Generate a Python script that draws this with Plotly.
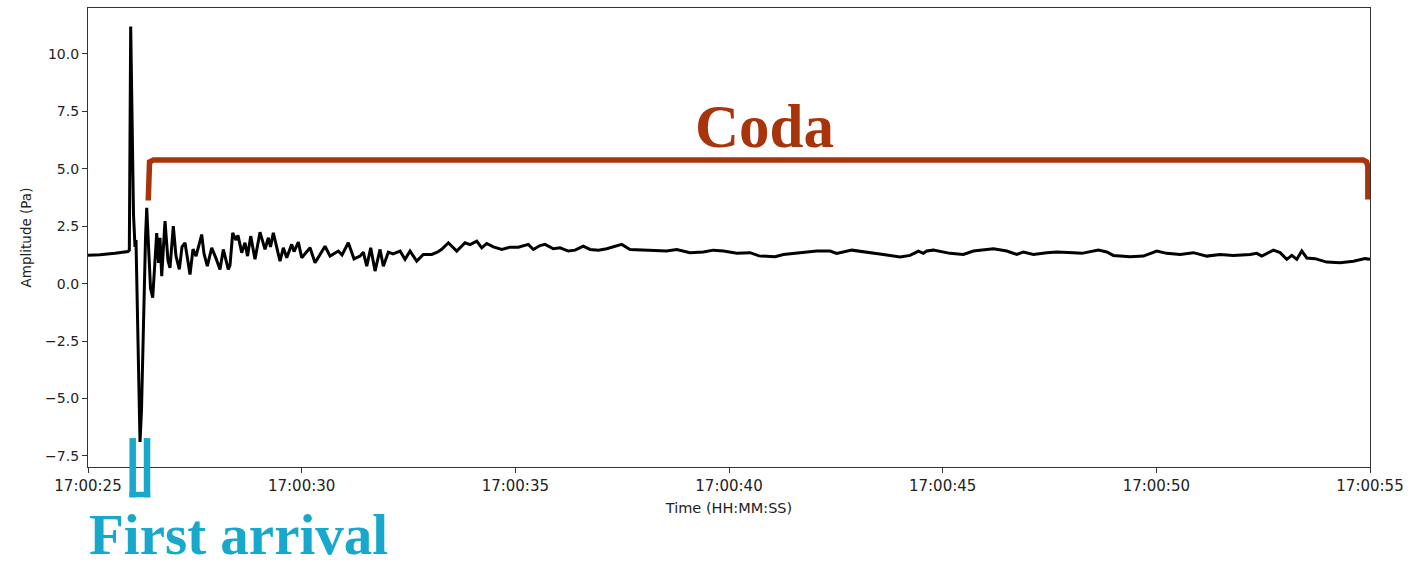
import pandas as pd
import plotly.graph_objects as go

# ---------------- data ----------------
START = "2023-01-01 17:00:25"
END = "2023-01-01 17:00:55"

# seconds after 17:00:25
t_offset_s = [
    0.000, 0.281, 0.632, 0.936, 0.967, 0.999, 1.065, 1.100, 1.123, 1.182,
    1.217, 1.252, 1.299, 1.346, 1.374, 1.416, 1.463, 1.514, 1.608, 1.650,
    1.685, 1.725, 1.802, 1.872, 1.919, 1.996, 2.059, 2.137, 2.200, 2.270,
    2.340, 2.387, 2.457, 2.528, 2.661, 2.715, 2.792, 2.895, 2.996, 3.089,
    3.167, 3.283, 3.323, 3.386, 3.464, 3.510, 3.597, 3.674, 3.733, 3.808,
    3.908, 4.025, 4.142, 4.220, 4.271, 4.337, 4.493, 4.571, 4.650, 4.767,
    4.821, 4.922, 5.001, 5.196, 5.313, 5.430, 5.547, 5.664, 5.858, 5.944,
    6.092, 6.225, 6.366, 6.443, 6.523, 6.616, 6.717, 6.834, 6.911, 7.028,
    7.138, 7.302, 7.419, 7.536, 7.692, 7.847, 8.043, 8.175, 8.278, 8.432,
    8.629, 8.823, 8.940, 9.097, 9.214, 9.331, 9.485, 9.682, 9.876, 10.070,
    10.304, 10.421, 10.578, 10.695, 10.889, 11.046, 11.240, 11.397, 11.591, 11.748,
    11.942, 12.139, 12.490, 12.684, 12.996, 13.309, 13.543, 13.777, 14.088, 14.400,
    14.634, 14.868, 15.182, 15.493, 15.703, 16.078, 16.272, 16.663, 17.054, 17.365,
    17.522, 17.873, 18.224, 18.612, 19.003, 19.237, 19.432, 19.548, 19.628, 19.782,
    20.173, 20.484, 20.718, 21.187, 21.500, 21.734, 21.889, 22.123, 22.436, 22.670,
    23.059, 23.255, 23.644, 23.840, 23.995, 24.386, 24.697, 25.011, 25.245, 25.556,
    25.867, 26.181, 26.492, 26.803, 27.194, 27.351, 27.468, 27.740, 27.896, 28.053,
    28.170, 28.287, 28.404, 28.521, 28.715, 28.989, 29.300, 29.612, 29.885, 30.000,
]

amplitude_pa = [
    1.24, 1.26, 1.32, 1.40, 1.46, 11.19, 3.00, 1.60, 1.90, -3.00,
    -6.89, -5.50, -1.00, 2.00, 3.30, 1.50, -0.20, -0.61, 2.20, 0.90,
    2.00, 0.33, 2.72, 1.00, 0.69, 2.50, 1.20, 0.62, 1.60, 1.78,
    1.00, 0.40, 1.50, 1.20, 2.14, 1.30, 0.76, 1.56, 1.10, 0.62,
    1.49, 0.62, 0.80, 2.21, 1.90, 2.10, 1.35, 1.78, 1.20, 2.07,
    1.06, 2.24, 1.49, 2.00, 1.60, 2.21, 0.98, 1.56, 1.13, 1.71,
    1.40, 1.81, 1.13, 1.56, 0.91, 1.30, 1.63, 1.20, 1.42, 1.25,
    1.78, 1.08, 1.20, 1.37, 0.76, 1.56, 0.55, 1.49, 0.76, 1.37,
    1.30, 1.42, 1.06, 1.42, 0.98, 1.27, 1.27, 1.37, 1.50, 1.78,
    1.42, 1.78, 1.70, 1.85, 1.56, 1.75, 1.60, 1.49, 1.59, 1.59,
    1.71, 1.49, 1.66, 1.71, 1.52, 1.56, 1.42, 1.46, 1.63, 1.49,
    1.46, 1.52, 1.71, 1.49, 1.46, 1.46, 1.42, 1.49, 1.35, 1.38,
    1.46, 1.42, 1.32, 1.35, 1.21, 1.17, 1.27, 1.35, 1.42, 1.42,
    1.32, 1.46, 1.38, 1.27, 1.16, 1.23, 1.42, 1.32, 1.42, 1.46,
    1.32, 1.27, 1.42, 1.52, 1.42, 1.27, 1.38, 1.27, 1.35, 1.38,
    1.35, 1.32, 1.46, 1.38, 1.23, 1.17, 1.20, 1.42, 1.32, 1.27,
    1.35, 1.20, 1.27, 1.23, 1.27, 1.32, 1.20, 1.46, 1.35, 1.06,
    1.23, 1.06, 1.42, 1.12, 1.09, 0.94, 0.91, 0.98, 1.09, 1.06,
]

y_ticks = [-7.5, -5.0, -2.5, 0.0, 2.5, 5.0, 7.5, 10.0]

# annotation windows (seconds after 17:00:25) and levels (Pa)
first_arrival_window_s = [1.046, 1.381]
coda_bracket_t_s = [1.41, 1.41, 1.44, 1.53, 29.84, 29.92, 29.95, 29.95]
coda_bracket_y_pa = [3.62, 5.10, 5.30, 5.38, 5.38, 5.30, 5.10, 3.66]

CODA_COLOR = "#A8340C"
ARRIVAL_COLOR = "#17A8CB"

# ---------------- figure ----------------
t0 = pd.Timestamp(START)
times = t0 + pd.to_timedelta(t_offset_s, unit="s")
coda_times = t0 + pd.to_timedelta(coda_bracket_t_s, unit="s")
fa_times = t0 + pd.to_timedelta(first_arrival_window_s, unit="s")
fa_pad = pd.to_timedelta(0.075, unit="s")

fig = go.Figure()
fig.add_trace(go.Scatter(
    x=times, y=amplitude_pa, mode="lines",
    line=dict(color="black", width=3), showlegend=False,
))
fig.add_trace(go.Scatter(
    x=coda_times, y=coda_bracket_y_pa, mode="lines",
    line=dict(color=CODA_COLOR, width=5.5), showlegend=False,
))

fmt = "%Y-%m-%d %H:%M:%S.%f"
xa, xb = fa_times[0], fa_times[1]
for xv in (xa, xb):
    fig.add_shape(type="line", xref="x", yref="paper",
                  x0=xv.strftime(fmt), x1=xv.strftime(fmt), y0=0.063, y1=-0.066,
                  line=dict(color=ARRIVAL_COLOR, width=6.5), layer="above")
fig.add_shape(type="line", xref="x", yref="paper",
              x0=(xa - fa_pad).strftime(fmt), x1=(xb + fa_pad).strftime(fmt),
              y0=-0.060, y1=-0.060,
              line=dict(color=ARRIVAL_COLOR, width=5.5), layer="above")

fig.add_annotation(
    text="<b>Coda</b>", xref="paper", yref="paper", x=0.528, y=0.742,
    xanchor="center", yanchor="middle", showarrow=False,
    font=dict(family="Liberation Serif", size=61, color=CODA_COLOR),
)
fig.add_annotation(
    text="<b>First arrival</b>", xref="paper", yref="paper", x=0.0, y=-0.2175,
    xanchor="left", yanchor="bottom", showarrow=False, borderpad=0,
    font=dict(family="Liberation Serif", size=57, color=ARRIVAL_COLOR),
)

fig.update_layout(
    width=1427, height=567,
    margin=dict(l=88, r=57, t=8, b=100),
    paper_bgcolor="white", plot_bgcolor="white",
    font=dict(family="DejaVu Sans", size=14, color="#222"),
    showlegend=False,
)
fig.update_xaxes(
    type="date", range=[START, END], tick0=START, dtick=5000,
    tickformat="%H:%M:%S", ticks="outside", ticklen=5, tickcolor="#333",
    tickfont=dict(size=15),
    showline=True, mirror=True, linecolor="#333", linewidth=1.3,
    showgrid=False, zeroline=False,
    title=dict(text="Time (HH:MM:SS)", standoff=8, font=dict(size=14.5)),
)
fig.update_yaxes(
    range=[-7.98, 12.0], tickvals=y_ticks, tickformat=".1f",
    ticks="outside", ticklen=5, tickcolor="#333",
    tickfont=dict(size=14),
    showline=True, mirror=True, linecolor="#333", linewidth=1.3,
    showgrid=False, zeroline=False,
    title=dict(text="Amplitude (Pa)", standoff=10, font=dict(size=13.5)),
)

fig.write_html("out.html", config={"displayModeBar": False},
               post_script="document.body.style.margin='0';")
